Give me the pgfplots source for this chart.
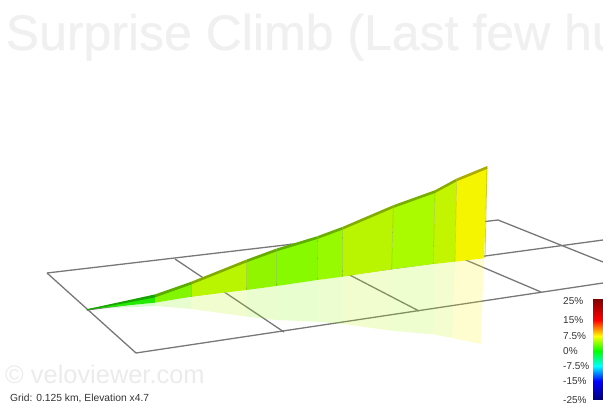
\documentclass[border=0pt]{standalone}
\usepackage{fontspec}
\setmainfont{Liberation Sans}
\newfontfamily\titlefont[FakeBold=0.7]{Liberation Sans}
\usepackage{pgfplots}
\pgfplotsset{compat=1.18}

\definecolor{gridline}{RGB}{120,120,120}
\definecolor{sa}{RGB}{35,235,0}
\definecolor{sb}{RGB}{130,245,0}
\definecolor{sc}{RGB}{186,245,0}
\definecolor{sd}{RGB}{145,245,0}
\definecolor{se}{RGB}{135,250,0}
\definecolor{sf}{RGB}{152,250,0}
\definecolor{sg}{RGB}{186,245,0}
\definecolor{sh}{RGB}{170,250,0}
\definecolor{si}{RGB}{196,245,0}
\definecolor{sj}{RGB}{245,245,0}

\pgfplotsset{
  colormap={velo}{
    rgb255(299pt)=(128,0,0)
    rgb255(320pt)=(255,0,0)
    rgb255(336pt)=(255,255,0)
    rgb255(351pt)=(0,255,0)
    rgb255(366pt)=(0,255,255)
    rgb255(381pt)=(0,0,255)
    rgb255(399pt)=(0,0,128)
  },
  grd/.style={gridline, line width=1.3pt, forget plot},
  seg/.style={fill=#1, draw=none, forget plot},
  rimseg/.style={fill=#1!70!black, draw=none, forget plot},
  ghost/.style={fill=#1, fill opacity=0.19, draw=none, forget plot},
  seam/.style={black, draw opacity=0.12, line width=0.7pt, forget plot},
}
\tikzset{
  barlab/.style={anchor=base west, inner sep=0pt, font=\fontsize{10}{10}\selectfont, text=black!80},
}

\begin{document}
\begin{tikzpicture}
\path[use as bounding box] (0,0) rectangle (603pt,404pt);
\clip (0,0) rectangle (603pt,404pt);
\begin{axis}[
  hide axis,
  scale only axis,
  width=603pt,
  height=404pt,
  xmin=0, xmax=603,
  ymin=0, ymax=404,
  y dir=reverse,
  enlargelimits=false,
  clip=true,
  colormap name=velo,
  point meta min=299,
  point meta max=399,
]
% grid on the ground
\addplot[grd] coordinates {(47,273) (498,220) (603,262)};
\addplot[grd] coordinates {(47,273) (136,353) (603,283)};
\addplot[grd] coordinates {(175,259) (284,332)};
\addplot[grd] coordinates {(290,244) (419,311)};
\addplot[grd] coordinates {(400,232) (541,292)};
\addplot[grd] coordinates {(87,310) (603,240)};

% reflection
\addplot[ghost=sa] coordinates {(86.7,309.3) (155,302.7) (155,306)} -- cycle;
\addplot[ghost=sb] coordinates {(155,302.7) (191,296.7) (191.7,309) (155,306)} -- cycle;
\addplot[ghost=sc] coordinates {(191,296.7) (246.7,290) (246.7,316.7) (191.7,309)} -- cycle;
\addplot[ghost=sd] coordinates {(246.7,290) (276.7,286) (276.7,320) (246.7,316.7)} -- cycle;
\addplot[ghost=se] coordinates {(276.7,286) (317.3,280) (317,321.7) (276.7,320)} -- cycle;
\addplot[ghost=sf] coordinates {(317.3,280) (342.7,276.7) (342.7,324) (317,321.7)} -- cycle;
\addplot[ghost=sg] coordinates {(342.7,276.7) (391.7,269.3) (391.7,330.7) (342.7,324)} -- cycle;
\addplot[ghost=sh] coordinates {(391.7,269.3) (433.3,264) (432.7,334.3) (391.7,330.7)} -- cycle;
\addplot[ghost=si] coordinates {(433.3,264) (455,261.7) (452.3,338) (432.7,334.3)} -- cycle;
\addplot[ghost=sj] coordinates {(455,261.7) (484,258.3) (480.7,344) (452.3,338)} -- cycle;

% climb profile
\addplot[seg=sa] coordinates {(86.7,309.3) (155,295.7) (155,302.7)} -- cycle;
\addplot[seg=sb] coordinates {(155,295.7) (191,283.3) (191,296.7) (155,302.7)} -- cycle;
\addplot[seg=sc] coordinates {(191,283.3) (246.7,261) (246.7,290) (191,296.7)} -- cycle;
\addplot[seg=sd] coordinates {(246.7,261) (276.7,250) (276.7,286) (246.7,290)} -- cycle;
\addplot[seg=se] coordinates {(276.7,250) (317.3,237.7) (317.3,280) (276.7,286)} -- cycle;
\addplot[seg=sf] coordinates {(317.3,237.7) (342.7,228.3) (342.7,276.7) (317.3,280)} -- cycle;
\addplot[seg=sg] coordinates {(342.7,228.3) (393.3,206.7) (391.7,269.3) (342.7,276.7)} -- cycle;
\addplot[seg=sh] coordinates {(393.3,206.7) (435,191.7) (433.3,264) (391.7,269.3)} -- cycle;
\addplot[seg=si] coordinates {(435,191.7) (456.7,180) (455,261.7) (433.3,264)} -- cycle;
\addplot[seg=sj] coordinates {(456.7,180) (487.3,166.7) (484,258.3) (455,261.7)} -- cycle;

% faint seams between the segments
\addplot[seam] coordinates {(191,283.3) (191,296.7)};
\addplot[seam] coordinates {(246.7,261) (246.7,290)};
\addplot[seam] coordinates {(276.7,250) (276.7,286)};
\addplot[seam] coordinates {(317.3,237.7) (317.3,280)};
\addplot[seam] coordinates {(342.7,228.3) (342.7,276.7)};
\addplot[seam] coordinates {(393.3,206.7) (391.7,269.3)};
\addplot[seam] coordinates {(435,191.7) (433.3,264)};
\addplot[seam] coordinates {(456.7,180) (455,261.7)};
\addplot[forget plot, color=sj!70!black, line width=0.8pt, draw opacity=0.6]
  coordinates {(487,168) (485,258)};

% rim along the top
\addplot[rimseg=sa] coordinates {(86.7,309.3) (155,294.4) (155,297.4) (86.7,310.3)} -- cycle;
\addplot[rimseg=sb] coordinates {(155,294.4) (191,281.8) (191,284.6) (155,297.4)} -- cycle;
\addplot[rimseg=sc] coordinates {(191,281.8) (246.7,259.5) (246.7,262.3) (191,284.6)} -- cycle;
\addplot[rimseg=sd] coordinates {(246.7,259.5) (276.7,248.5) (276.7,251.3) (246.7,262.3)} -- cycle;
\addplot[rimseg=se] coordinates {(276.7,248.5) (317.3,236.2) (317.3,239) (276.7,251.3)} -- cycle;
\addplot[rimseg=sf] coordinates {(317.3,236.2) (342.7,226.8) (342.7,229.6) (317.3,239)} -- cycle;
\addplot[rimseg=sg] coordinates {(342.7,226.8) (393.3,205.2) (393.3,208) (342.7,229.6)} -- cycle;
\addplot[rimseg=sh] coordinates {(393.3,205.2) (435,190.2) (435,193) (393.3,208)} -- cycle;
\addplot[rimseg=si] coordinates {(435,190.2) (456.7,178.5) (456.7,181.3) (435,193)} -- cycle;
\addplot[rimseg=sj] coordinates {(456.7,178.5) (487.3,166) (487.3,168.8) (456.7,181.3)} -- cycle;

% colour bar
\addplot[patch, patch type=rectangle, shader=interp, point meta=explicit, forget plot]
  table[meta=m] {
x y m
593 299 299
603 299 299
603 320 320
593 320 320
593 320 320
603 320 320
603 336 336
593 336 336
593 336 336
603 336 336
603 351 351
593 351 351
593 351 351
603 351 351
603 366 366
593 366 366
593 366 366
603 366 366
603 381 381
593 381 381
593 381 381
603 381 381
603 399 399
593 399 399
};

\node[barlab] at (axis cs:563,304.2) {25\%};
\node[barlab] at (axis cs:563,323.5) {15\%};
\node[barlab] at (axis cs:563,339.2) {7.5\%};
\node[barlab] at (axis cs:563,354.2) {0\%};
\node[barlab] at (axis cs:563,369.2) {-7.5\%};
\node[barlab] at (axis cs:563,384.2) {-15\%};
\node[barlab] at (axis cs:563,403) {-25\%};

\node[anchor=base west, inner sep=0pt, text={rgb,255:red,240;green,240;blue,240},
  font=\fontsize{50}{50}\titlefont] at (axis cs:5.5,50) {Surprise Climb (Last few hu};
\node[anchor=base west, inner sep=0pt, text={rgb,255:red,235;green,235;blue,235},
  font=\fontsize{25.4}{25.4}\selectfont] at (axis cs:5,383) {© veloviewer.com};
\node[anchor=base west, inner sep=0pt, text=black!80,
  font=\fontsize{10.3}{10.3}\selectfont] at (axis cs:10,401.5) {Grid: 0.125 km, Elevation x4.7};
\end{axis}
\end{tikzpicture}
\end{document}
